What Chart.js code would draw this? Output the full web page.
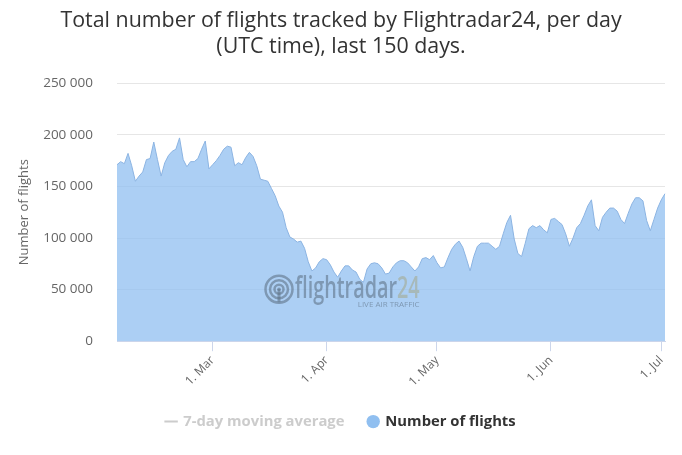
<!DOCTYPE html>
<html>
<head>
<meta charset="utf-8">
<script src="https://cdn.jsdelivr.net/npm/chart.js@4/dist/chart.umd.min.js"></script>
<style>
  body { margin: 0; background: #ffffff; }
  canvas { display: block; }
</style>
</head>
<body>
<canvas id="flightsChart" width="682" height="455"></canvas>
<script>
// Data: one value per day, 4 Feb 2020 .. 2 Jul 2020
const firstDay = Date.UTC(2020, 1, 4);
const monthNames = ['Jan', 'Feb', 'Mar', 'Apr', 'May', 'Jun', 'Jul', 'Aug', 'Sep', 'Oct', 'Nov', 'Dec'];
const tickLabels = ['1. Mar', '1. Apr', '1. May', '1. Jun', '1. Jul'];
const yTicks = [0, 50000, 100000, 150000, 200000, 250000];

const flights = [
    171000, 174000, 172000, 182000, 170000, 155000, 160000, 164000, 176000, 177000,
    193000, 176000, 160000, 173000, 180000, 184000, 186000, 197000, 176000, 169000,
    174000, 174000, 177000, 186000, 194000, 167000, 171000, 175000, 180000, 186000,
    189000, 188000, 170000, 173000, 171000, 178000, 183000, 179000, 170000, 157000,
    156000, 155000, 148000, 141000, 131000, 125000, 110000, 101000, 99000, 96000,
    97000, 90000, 77000, 68000, 71000, 77000, 80000, 79000, 74000, 67000,
    62000, 68000, 73000, 73000, 69000, 67000, 60000, 57000, 70000, 75000,
    76000, 75000, 71000, 65000, 66000, 72000, 76000, 78000, 78000, 76000,
    72000, 68000, 72000, 80000, 81000, 79000, 83000, 76000, 71000, 72000,
    81000, 89000, 94000, 97000, 91000, 80000, 68000, 82000, 92000, 95000,
    95000, 95000, 92000, 89000, 92000, 104000, 115000, 122000, 99000, 85000,
    82000, 95000, 109000, 112000, 110000, 112000, 108000, 105000, 118000, 119000,
    116000, 113000, 104000, 92000, 100000, 110000, 114000, 122000, 131000, 137000,
    112000, 107000, 120000, 125000, 129000, 129000, 126000, 118000, 114000, 124000,
    133000, 139000, 139000, 136000, 117000, 107000, 118000, 129000, 137000, 143000
];

// day labels like "4. Feb"
const days = flights.map((_, i) => {
    const d = new Date(firstDay + i * 86400000);
    return d.getUTCDate() + '. ' + monthNames[d.getUTCMonth()];
});

const FONT = "'Open Sans', 'DejaVu Sans', sans-serif";

// Format 250000 -> "250 000"
function formatThousands(v) {
    return String(v).replace(/\B(?=(\d{3})+(?!\d))/g, ' ');
}

// flightradar24 watermark in the middle of the plot
const watermark = {
    id: 'watermark',
    afterDatasetsDraw(chart) {
        const ctx = chart.ctx;
        const cx = chart.width / 2;
        const cy = chart.chartArea.bottom - 52;
        ctx.save();
        // radar icon
        const ix = cx - 62;
        ctx.strokeStyle = 'rgba(95, 115, 135, 0.6)';
        ctx.fillStyle = 'rgba(95, 115, 135, 0.6)';
        ctx.lineWidth = 2.5;
        [13.5, 9, 4.5].forEach(r => {
            ctx.beginPath();
            ctx.arc(ix, cy, r, 0, Math.PI * 2);
            ctx.stroke();
        });
        ctx.beginPath();
        ctx.arc(ix, cy, 1.8, 0, Math.PI * 2);
        ctx.fill();
        ctx.fillRect(ix - 1.5, cy, 3, 13);

        // logo text, squeezed horizontally
        ctx.font = '600 31px ' + FONT;
        ctx.textBaseline = 'alphabetic';
        const w1 = ctx.measureText('flightradar').width;
        const w2 = ctx.measureText('24').width;
        const sx = 102 / w1;
        ctx.save();
        ctx.translate(cx - 46, cy + 9);
        ctx.scale(sx, 1);
        ctx.fillStyle = 'rgba(95, 115, 135, 0.6)';
        ctx.fillText('flightradar', 0, 0);
        ctx.fillStyle = 'rgba(165, 175, 160, 0.7)';
        ctx.fillText('24', w1, 0);
        ctx.restore();

        ctx.font = '8px ' + FONT;
        ctx.fillStyle = 'rgba(95, 115, 135, 0.6)';
        ctx.textAlign = 'right';
        ctx.fillText('LIVE AIR TRAFFIC', cx - 46 + (w1 + w2) * sx, cy + 18);
        ctx.restore();
    }
};

const chartCtx = document.getElementById('flightsChart').getContext('2d');
const flightsChart = new Chart(chartCtx, {
    type: 'line',
    data: {
        labels: days,
        datasets: [{
            label: 'Number of flights',
            data: flights,
            borderColor: '#8cb4e2',
            borderWidth: 1,
            backgroundColor: 'rgba(144, 191, 240, 0.75)',
            fill: 'origin',
            tension: 0,
            pointRadius: 0
        }]
    },
    options: {
        responsive: false,
        animation: false,
        devicePixelRatio: 1,
        layout: {
            padding: { top: 0, right: 0, bottom: 16, left: 0 }
        },
        scales: {
            x: {
                offset: false,
                grid: {
                    drawOnChartArea: false,
                    drawTicks: true,
                    tickLength: 10,
                    color: '#ccd6eb'
                },
                border: { display: true, color: '#ccd6eb' },
                afterBuildTicks: function(axis) {
                    axis.ticks = axis.ticks.filter(t => tickLabels.includes(days[t.value]));
                },
                afterFit: function(scale) {
                    scale.height = 49;
                },
                ticks: {
                    autoSkip: false,
                    maxRotation: 45,
                    minRotation: 45,
                    padding: 2,
                    color: '#666666',
                    font: { family: FONT, size: 12 }
                }
            },
            y: {
                min: 0,
                max: 250000,
                afterBuildTicks: function(axis) {
                    axis.ticks = yTicks.map(v => ({ value: v }));
                },
                afterFit: function(scale) {
                    scale.width = 117;
                },
                grid: {
                    color: '#e6e6e6',
                    drawTicks: false
                },
                border: { display: false },
                ticks: {
                    padding: 24,
                    color: '#666666',
                    font: { family: FONT, size: 13.5 },
                    callback: function(value) {
                        return formatThousands(value);
                    }
                },
                title: {
                    display: true,
                    text: 'Number of flights',
                    color: '#666666',
                    font: { family: FONT, size: 13 },
                    padding: { top: 16, bottom: 0 }
                }
            },
            // empty right-hand margin so title and legend stay centred on the page
            yRight: {
                position: 'right',
                display: true,
                grid: { display: false, drawTicks: false },
                border: { display: false },
                ticks: { display: false },
                afterFit: function(scale) {
                    scale.width = 17;
                }
            }
        },
        plugins: {
            title: {
                display: true,
                text: ['Total number of flights tracked by Flightradar24, per day', '(UTC time), last 150 days.'],
                color: '#333333',
                font: { family: FONT, size: 21.4, weight: 'normal', lineHeight: 1.22 },
                padding: { top: 8, bottom: 23 }
            },
            legend: {
                position: 'bottom',
                labels: {
                    usePointStyle: true,
                    boxWidth: 9.5,
                    boxHeight: 9.5,
                    padding: 24,
                    font: { family: FONT, size: 14.8, weight: 'bold' },
                    generateLabels: function() {
                        return [
                            {
                                text: '7-day moving average',
                                pointStyle: 'line',
                                strokeStyle: '#cccccc',
                                fillStyle: '#cccccc',
                                lineWidth: 2,
                                fontColor: '#cccccc',
                                hidden: false
                            },
                            {
                                text: 'Number of flights',
                                pointStyle: 'circle',
                                strokeStyle: '#90bff0',
                                fillStyle: '#90bff0',
                                lineWidth: 0,
                                fontColor: '#333333',
                                hidden: false
                            }
                        ];
                    }
                }
            },
            tooltip: { enabled: false }
        }
    },
    plugins: [watermark]
});
</script>
</body>
</html>
